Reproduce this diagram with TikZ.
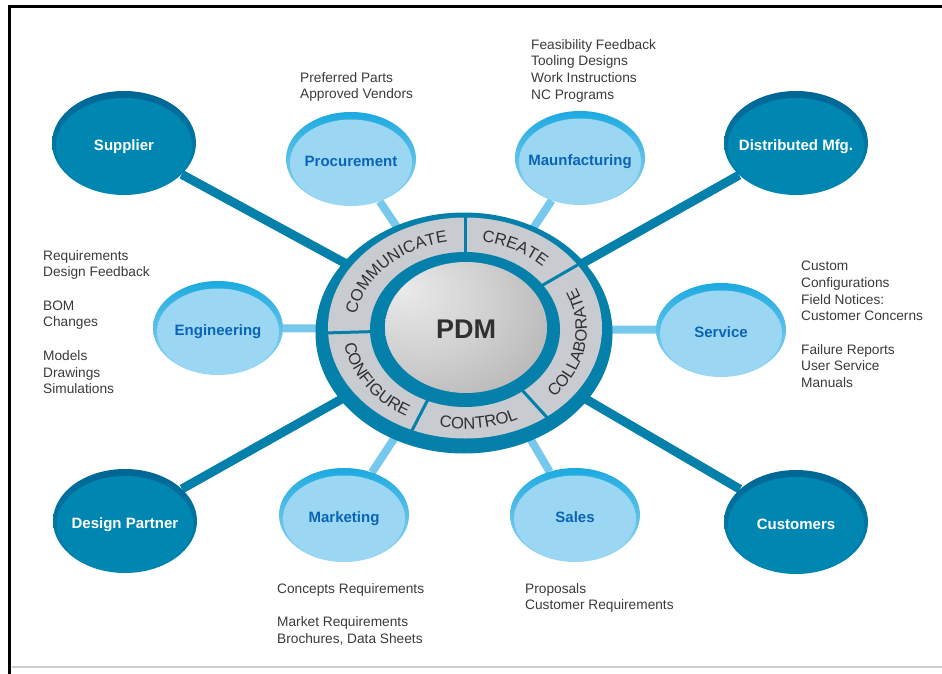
\documentclass[tikz,border=0pt]{standalone}
\usepackage{fontspec}
\setmainfont{Liberation Sans}
\usetikzlibrary{positioning,shapes.geometric,calc,backgrounds,decorations.text}

\definecolor{hubblue}{RGB}{4,128,170}
\definecolor{darkrim}{RGB}{0,102,148}
\definecolor{darkfill}{RGB}{0,135,177}
\definecolor{lightrim}{RGB}{28,170,224}
\definecolor{lightfill}{RGB}{155,215,242}
\definecolor{lightlink}{RGB}{118,200,236}
\definecolor{lighttext}{RGB}{10,100,182}
\definecolor{notetext}{RGB}{58,58,58}
\definecolor{ringgray}{RGB}{200,203,207}
\definecolor{ringtext}{RGB}{48,48,48}
\definecolor{sphlight}{RGB}{234,234,234}
\definecolor{sphmid}{RGB}{208,208,208}
\definecolor{sphdark}{RGB}{162,162,162}
\definecolor{sphedge}{RGB}{130,130,130}

\newcommand{\nodelabel}[1]{\makebox[0pt]{#1}}
\newcommand{\ringfont}{\fontsize{16.5}{16.5}\selectfont\color{ringtext}}

\pgfdeclareradialshading{pdmglow}{\pgfpoint{-20bp}{15bp}}{color(0bp)=(sphlight); color(22bp)=(sphmid); color(55bp)=(sphdark); color(75bp)=(sphedge)}

\tikzset{
  extnode/.style={ellipse,minimum width=144pt,minimum height=104pt,inner sep=0pt,
                  text height=15pt,text depth=0pt,
                  top color=darkrim,bottom color=darkfill,text=white,
                  font=\bfseries\fontsize{15}{18}\selectfont,
                  path picture={\fill[darkfill] ([yshift=-3pt]path picture bounding box.center)
                                ellipse [x radius=68pt,y radius=48pt];}},
  intnode/.style={ellipse,minimum width=130pt,minimum height=94pt,inner sep=0pt,
                  text height=15pt,text depth=0pt,
                  top color=lightrim,bottom color=lightfill,text=lighttext,
                  font=\bfseries\fontsize{15}{18}\selectfont,
                  path picture={\fill[lightfill] ([yshift=-3.5pt]path picture bounding box.center)
                                ellipse [x radius=61pt,y radius=43pt];}},
  extlink/.style={draw=hubblue,line width=9pt},
  intlink/.style={draw=lightlink,line width=8pt},
  notes/.style={anchor=north west,inner sep=0pt,align=left,text=notetext,
                font=\fontsize{13.7}{16.7}\selectfont},
  divider/.style={draw=hubblue,line width=3pt},
  ringword/.style={decorate,decoration={text along path,text align=center,text={|\ringfont|#1}}}
}

\begin{document}
\begin{tikzpicture}[x=1pt,y=1pt]
\useasboundingbox (0,0) rectangle (942,-674);

% frame
\draw[line width=2.2pt] (8,-6.6) -- (942,-6.6);
\draw[line width=2.4pt] (9.3,-5.5) -- (9.3,-674);
\draw[gray!40,line width=1.3pt] (12,-667) -- (942,-667);

% hub with the ring of tasks
\coordinate (hub) at (465,-329);
\fill[hubblue] (464,-333) ellipse [x radius=148.5,y radius=120.5];
\fill[ringgray] (465,-328) ellipse [x radius=137,y radius=110.5];
\fill[hubblue] (465,-329.5) ellipse [x radius=95,y radius=77.5];
\shade[shading=pdmglow] (466,-327.5) ellipse [x radius=81,y radius=65.5];

\draw[divider] ($(hub)+(90:93 and 75)$) -- ($(hub)+(90:139 and 113)$);
\draw[divider] ($(hub)+(35:93 and 75)$) -- ($(hub)+(35:139 and 113)$);
\draw[divider] ($(hub)+(-53:93 and 75)$) -- ($(hub)+(-53:139 and 113)$);
\draw[divider] ($(hub)+(247:93 and 75)$) -- ($(hub)+(247:139 and 113)$);
\draw[divider] ($(hub)+(182:93 and 75)$) -- ($(hub)+(182:139 and 113)$);

\path[ringword=COMMUNICATE] ($(hub)+(182:110 and 88)$) arc [start angle=182,end angle=90,x radius=110,y radius=88];
\path[ringword=CREATE] ($(hub)+(90:110 and 88)$) arc [start angle=90,end angle=35,x radius=110,y radius=88];
\path[ringword=COLLABORATE] ($(hub)+(-53:122 and 100)$) arc [start angle=-53,end angle=35,x radius=122,y radius=100];
\path[ringword=CONTROL] ($(hub)+(247:122 and 100)$) arc [start angle=247,end angle=307,x radius=122,y radius=100];
\path[ringword=CONFIGURE] ($(hub)+(182:122 and 100)$) arc [start angle=182,end angle=247,x radius=122,y radius=100];

\node[text=ringtext,font=\bfseries\fontsize{27}{30}\selectfont] (pdm) at (466,-329) {PDM};

% partners
\node[extnode] (supplier) at (124,-143) {\nodelabel{Supplier}};
\node[extnode] (distmfg)  at (796,-143) {\nodelabel{Distributed Mfg.}};
\node[extnode] (designp)  at (125,-521) {\nodelabel{Design Partner}};
\node[extnode] (customer) at (796,-522) {\nodelabel{Customers}};

% departments
\node[intnode] (procure) at (351,-159) {\nodelabel{Procurement}};
\node[intnode] (manuf)   at (580,-158) {\nodelabel{Maunfacturing}};
\node[intnode] (engin)   at (218,-328) {\nodelabel{Engineering}};
\node[intnode] (service) at (721,-330) {\nodelabel{Service}};
\node[intnode] (market)  at (344,-515) {\nodelabel{Marketing}};
\node[intnode] (sales)   at (575,-515) {\nodelabel{Sales}};

% what each department exchanges
\node[notes] (procnotes)  at (300,-72)  {Preferred Parts\\Approved Vendors};
\node[notes] (manufnotes) at (531,-39)  {Feasibility Feedback\\Tooling Designs\\Work Instructions\\NC Programs};
\node[notes] (enginnotes) at (43,-250)  {Requirements\\Design Feedback\\[16.7pt]BOM\\Changes\\[16.7pt]Models\\Drawings\\Simulations};
\node[notes] (servnotes)  at (801,-261) {Custom\\Configurations\\Field Notices:\\Customer Concerns\\[16.7pt]Failure Reports\\User Service\\Manuals};
\node[notes] (marknotes)  at (277,-583) {Concepts Requirements\\[16.7pt]Market Requirements\\Brochures, Data Sheets};
\node[notes] (salesnotes) at (525,-583) {Proposals\\Customer Requirements};

\begin{scope}[on background layer]
\draw[extlink] (supplier) -- (pdm);
\draw[extlink] (distmfg) -- (pdm);
\draw[extlink] (designp) -- (pdm);
\draw[extlink] (customer) -- (pdm);
\draw[intlink] (procure) -- (pdm);
\draw[intlink] (manuf) -- (pdm);
\draw[intlink] (engin) -- (pdm);
\draw[intlink] (service) -- (pdm);
\draw[intlink] (market) -- (pdm);
\draw[intlink] (sales) -- (pdm);
\end{scope}
\end{tikzpicture}
\end{document}
